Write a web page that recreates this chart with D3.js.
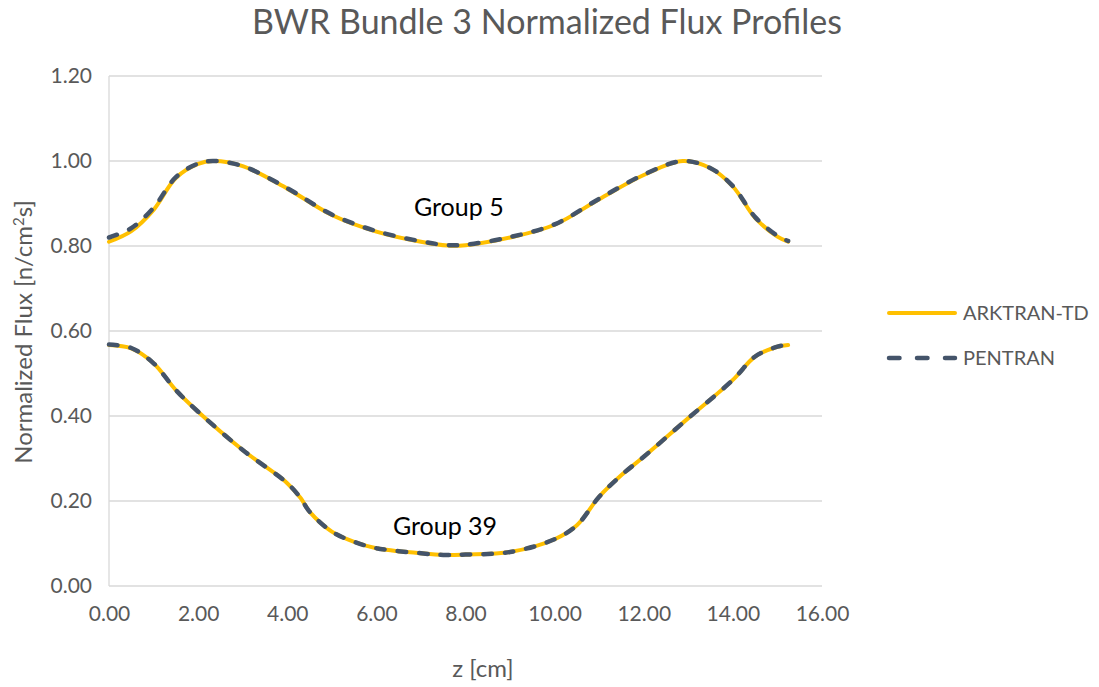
<!DOCTYPE html>
<html>
<head>
<meta charset="utf-8">
<script src="https://cdn.jsdelivr.net/npm/d3@7"></script>
<style>
  body { margin: 0; background: #fff; }
  text { font-family: Lato, "Open Sans", sans-serif; }
</style>
</head>
<body>
<div id="chart"></div>
<script>
// z positions along the bundle [cm]
var zGroup5 = [0, 0.5, 1, 1.5, 2, 2.33, 3, 4, 5, 6, 7, 7.6, 8, 9, 10, 11, 12, 12.88, 13.5, 14, 14.5, 15, 15.24];
var arktranGroup5 = [0.810, 0.835, 0.885, 0.960, 0.993, 1.000, 0.988, 0.935, 0.873, 0.834, 0.810, 0.801, 0.802, 0.820, 0.850, 0.910, 0.967, 1.000, 0.983, 0.940, 0.866, 0.822, 0.810];
var pentranGroup5 = [0.820, 0.842, 0.890, 0.962, 0.994, 1.000, 0.988, 0.936, 0.874, 0.835, 0.811, 0.802, 0.803, 0.821, 0.851, 0.911, 0.968, 1.000, 0.983, 0.941, 0.868, 0.824, 0.812];

var zGroup39 = [0, 0.5, 1, 1.5, 2, 3, 4, 4.3, 4.5, 5, 5.5, 6, 7, 7.5, 8, 9, 10, 10.5, 11, 11.5, 12, 13, 14, 14.5, 15, 15.24];
var arktranGroup39 = [0.567, 0.559, 0.524, 0.461, 0.410, 0.320, 0.242, 0.207, 0.175, 0.128, 0.104, 0.089, 0.077, 0.073, 0.074, 0.080, 0.110, 0.143, 0.210, 0.261, 0.304, 0.395, 0.485, 0.540, 0.563, 0.567];
var pentranGroup39 = [0.568, 0.560, 0.524, 0.461, 0.410, 0.320, 0.242, 0.207, 0.175, 0.128, 0.104, 0.089, 0.077, 0.073, 0.074, 0.080, 0.110, 0.143, 0.210, 0.261, 0.304, 0.395, 0.485, 0.540, 0.563, 0.568];

var yTicks = [0, 0.2, 0.4, 0.6, 0.8, 1.0, 1.2];
var xTicks = [0, 2, 4, 6, 8, 10, 12, 14, 16];
var seriesNames = ['ARKTRAN-TD', 'PENTRAN'];
var groupLabels = [{text: 'Group 5', z: 7.85, v: 0.871}, {text: 'Group 39', z: 7.54, v: 0.12}];

var W = 1099, H = 687;
var margin = {top: 76, right: 277, bottom: 101, left: 109},
    width = W - margin.left - margin.right,
    height = H - margin.top - margin.bottom;

var grey = '#595959';
var colors = {'ARKTRAN-TD': '#FFC000', 'PENTRAN': '#44546A'};

var x = d3.scaleLinear().domain([0, 16]).range([0, width]);
var y = d3.scaleLinear().domain([0, 1.2]).range([height, 0]);

var svg = d3.select('#chart').append('svg')
    .attr('width', W)
    .attr('height', H);

var g = svg.append('g')
    .attr('transform', 'translate(' + margin.left + ',' + margin.top + ')');

// gridlines
g.selectAll('line.grid')
    .data(yTicks)
    .enter().append('line')
    .attr('class', 'grid')
    .attr('x1', 0).attr('x2', width)
    .attr('y1', d => y(d)).attr('y2', d => y(d))
    .style('stroke', '#d9d9d9')
    .style('stroke-width', 1.3);

// left axis line
g.append('line')
    .attr('x1', 0).attr('x2', 0)
    .attr('y1', 0).attr('y2', height)
    .style('stroke', '#d9d9d9')
    .style('stroke-width', 1.3);

// axes (labels only)
var yAxis = d3.axisLeft(y).tickValues(yTicks).tickFormat(d3.format('.2f')).tickSize(0).tickPadding(17);
var xAxis = d3.axisBottom(x).tickValues(xTicks).tickFormat(d3.format('.2f')).tickSize(0).tickPadding(20);

var ya = g.append('g').call(yAxis);
var xa = g.append('g').attr('transform', 'translate(0,' + height + ')').call(xAxis);
[ya, xa].forEach(a => {
    a.select('.domain').remove();
    a.selectAll('text')
        .style('font-family', 'Lato, "Open Sans", sans-serif')
        .style('font-size', '21px')
        .style('fill', grey);
});

var line = d3.line()
    .x(d => x(d[0]))
    .y(d => y(d[1]))
    .curve(d3.curveCatmullRom.alpha(0.5));

var curves = [
    {name: 'ARKTRAN-TD', pts: d3.zip(zGroup5, arktranGroup5)},
    {name: 'ARKTRAN-TD', pts: d3.zip(zGroup39, arktranGroup39)},
    {name: 'PENTRAN', pts: d3.zip(zGroup5, pentranGroup5)},
    {name: 'PENTRAN', pts: d3.zip(zGroup39, pentranGroup39)}
];

curves.forEach(c => {
    var dashed = c.name == 'PENTRAN';
    g.append('path')
        .attr('d', line(c.pts))
        .style('fill', 'none')
        .style('stroke', colors[c.name])
        .style('stroke-width', dashed ? 4.5 : 4)
        .style('stroke-linecap', 'round')
        .style('stroke-dasharray', dashed ? '8.5,13' : null);
});

// group annotations
g.selectAll('text.grp')
    .data(groupLabels)
    .enter().append('text')
    .attr('class', 'grp')
    .attr('x', d => x(d.z))
    .attr('y', d => y(d.v))
    .attr('text-anchor', 'middle')
    .style('font-size', '25px')
    .style('fill', '#000')
    .text(d => d.text);

// title
svg.append('text')
    .attr('x', 547)
    .attr('y', 34)
    .attr('text-anchor', 'middle')
    .style('font-size', '34px')
    .style('fill', grey)
    .text('BWR Bundle 3 Normalized Flux Profiles');

// axis titles
svg.append('text')
    .attr('x', 483)
    .attr('y', 677)
    .attr('text-anchor', 'middle')
    .style('font-size', '24px')
    .style('fill', grey)
    .text('z [cm]');

var yt = svg.append('text')
    .attr('transform', 'translate(32,332) rotate(-90)')
    .attr('text-anchor', 'middle')
    .style('font-size', '24px')
    .style('fill', grey);
yt.append('tspan').text('Normalized Flux [n/cm');
yt.append('tspan').attr('dy', -8).style('font-size', '15px').text('2');
yt.append('tspan').attr('dy', 8).text('s]');

// legend
var legend = svg.append('g').attr('transform', 'translate(887,313)');
seriesNames.forEach((s, i) => {
    var row = legend.append('g').attr('transform', 'translate(0,' + (i * 45) + ')');
    row.append('line')
        .attr('x1', 2).attr('x2', 68)
        .attr('y1', 0).attr('y2', 0)
        .style('stroke', colors[s])
        .style('stroke-width', s == 'PENTRAN' ? 4.5 : 4)
        .style('stroke-linecap', 'round')
        .style('stroke-dasharray', s == 'PENTRAN' ? '10.5,17.5' : null);
    row.append('text')
        .attr('x', 76)
        .attr('y', 0)
        .attr('dy', '0.35em')
        .style('font-size', '20px')
        .style('fill', grey)
        .text(s);
});
</script>
</body>
</html>
